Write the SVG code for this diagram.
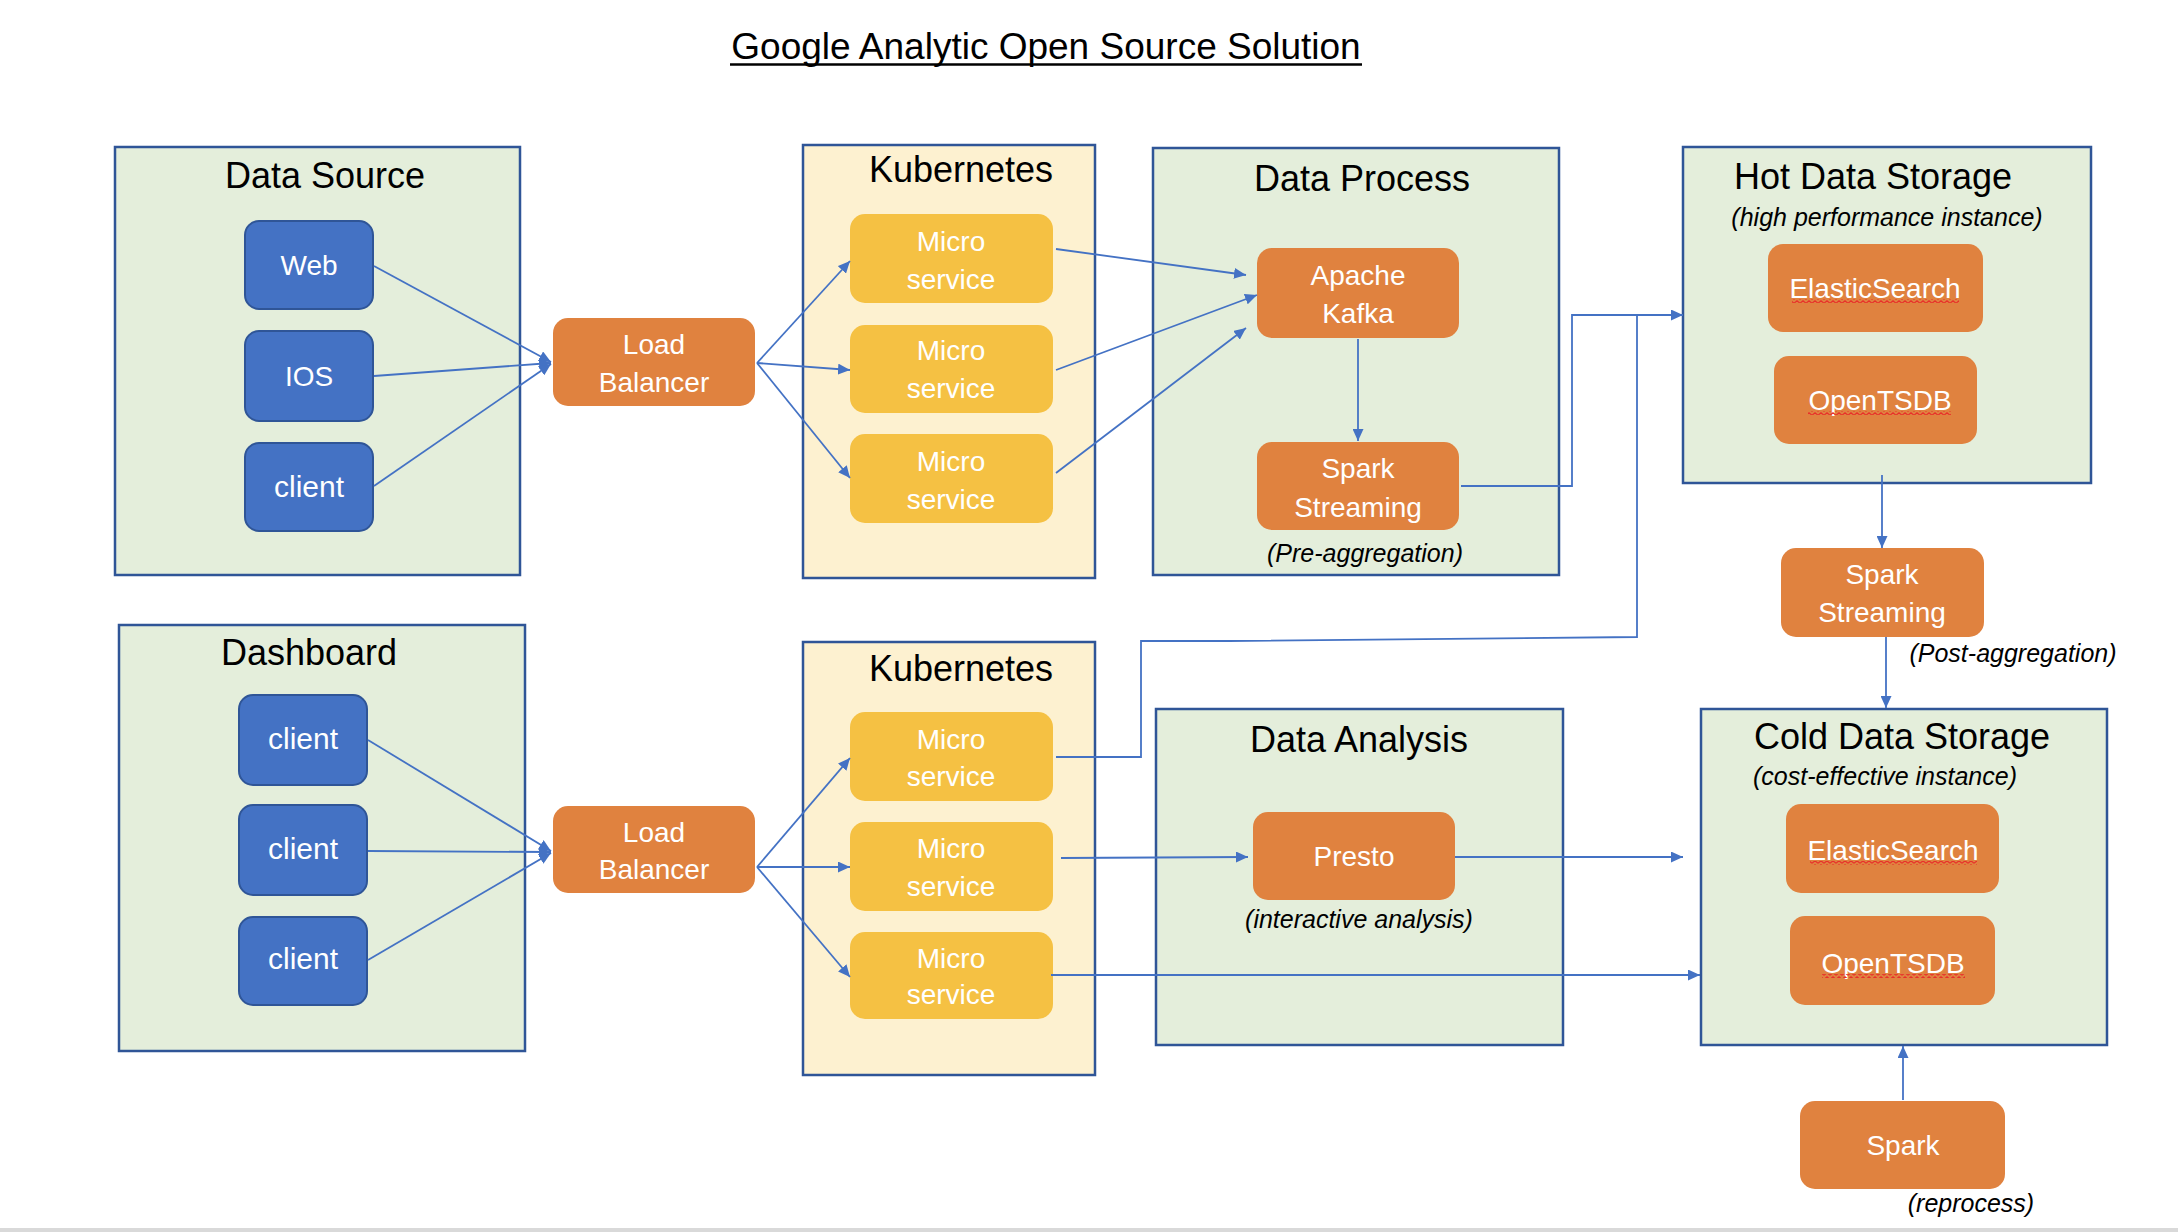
<svg xmlns="http://www.w3.org/2000/svg" width="2178" height="1232" viewBox="0 0 2178 1232">
<defs>
<style>
.grp{fill:#E4EEDB;stroke:#2F5597;stroke-width:2.5}
.k8s{fill:#FDF1D0;stroke:#2F5597;stroke-width:2.5}
.blue{fill:#4472C4;stroke:#2F5597;stroke-width:2}
.orange{fill:#E0823F}
.gold{fill:#F5C143}
.t{font-family:"Liberation Sans",Arial,sans-serif;text-anchor:middle}
.h{font-size:36px;fill:#000}
.w{font-size:28px;fill:#fff}
.cl{font-size:30px;fill:#fff}
.n{font-size:25px;font-style:italic;fill:#000}
.c{fill:none;stroke:#4472C4;stroke-width:1.8}
.a{marker-end:url(#arr)}
</style>
<marker id="arr" markerUnits="userSpaceOnUse" markerWidth="13" markerHeight="11" refX="12" refY="5.5" orient="auto">
<path d="M0,0 L12,5.5 L0,11 z" fill="#4472C4"/>
</marker>
<pattern id="wave" width="6" height="4" patternUnits="userSpaceOnUse">
<path d="M0,3.2 L3,0.8 L6,3.2" fill="none" stroke="#E8302A" stroke-width="1.1"/>
</pattern>
</defs>
<rect x="0" y="0" width="2178" height="1232" fill="#fff"/>
<rect x="0" y="1228" width="2178" height="4" fill="#D9D9D9"/>

<g id="title">
<text class="t" x="1046" y="59" font-size="37" fill="#000">Google Analytic Open Source Solution</text>
<line x1="730" y1="64.5" x2="1362" y2="64.5" stroke="#000" stroke-width="2.5"/>
</g>

<g id="data-source">
<rect class="grp" x="115" y="147" width="405" height="428"/>
<text class="t h" x="325" y="188">Data Source</text>
</g>
<g id="web"><rect class="blue" x="245" y="221" width="128" height="88" rx="14"/><text class="t w" x="309" y="275">Web</text></g>
<g id="ios"><rect class="blue" x="245" y="331" width="128" height="90" rx="14"/><text class="t w" x="309" y="386">IOS</text></g>
<g id="client-src"><rect class="blue" x="245" y="443" width="128" height="88" rx="14"/><text class="t cl" x="309" y="497">client</text></g>

<g id="lb-top"><rect class="orange" x="553" y="318" width="202" height="88" rx="15"/><text class="t w" x="654" y="354">Load</text><text class="t w" x="654" y="392">Balancer</text></g>

<g id="k8s-top">
<rect class="k8s" x="803" y="145" width="292" height="433"/>
<text class="t h" x="961" y="182">Kubernetes</text>
</g>
<g id="ms1"><rect class="gold" x="850" y="214" width="203" height="89" rx="15"/><text class="t w" x="951" y="251">Micro</text><text class="t w" x="951" y="289">service</text></g>
<g id="ms2"><rect class="gold" x="850" y="325" width="203" height="88" rx="15"/><text class="t w" x="951" y="360">Micro</text><text class="t w" x="951" y="398">service</text></g>
<g id="ms3"><rect class="gold" x="850" y="434" width="203" height="89" rx="15"/><text class="t w" x="951" y="471">Micro</text><text class="t w" x="951" y="509">service</text></g>

<g id="data-process">
<rect class="grp" x="1153" y="148" width="406" height="427"/>
<text class="t h" x="1362" y="191">Data Process</text>
<text class="t n" x="1365" y="562">(Pre-aggregation)</text>
</g>
<g id="kafka"><rect class="orange" x="1257" y="248" width="202" height="90" rx="15"/><text class="t w" x="1358" y="285">Apache</text><text class="t w" x="1358" y="323">Kafka</text></g>
<g id="spark-streaming-pre"><rect class="orange" x="1257" y="442" width="202" height="88" rx="15"/><text class="t w" x="1358" y="478">Spark</text><text class="t w" x="1358" y="517">Streaming</text></g>

<g id="hot-storage">
<rect class="grp" x="1683" y="147" width="408" height="336"/>
<text class="t h" x="1873" y="189">Hot Data Storage</text>
<text class="t n" x="1887" y="226">(high performance instance)</text>
</g>
<g id="es-hot"><rect class="orange" x="1768" y="244" width="215" height="88" rx="15"/><text class="t w" x="1875" y="298">ElasticSearch</text><rect x="1792" y="299" width="167" height="4" fill="url(#wave)"/></g>
<g id="tsdb-hot"><rect class="orange" x="1774" y="356" width="203" height="88" rx="15"/><text class="t w" x="1880" y="410">OpenTSDB</text><rect x="1808" y="411" width="143" height="4" fill="url(#wave)"/></g>

<g id="spark-streaming-post"><rect class="orange" x="1781" y="548" width="203" height="89" rx="15"/><text class="t w" x="1882" y="584">Spark</text><text class="t w" x="1882" y="622">Streaming</text><text class="t n" x="2013" y="662">(Post-aggregation)</text></g>

<g id="dashboard">
<rect class="grp" x="119" y="625" width="406" height="426"/>
<text class="t h" x="309" y="665">Dashboard</text>
</g>
<g id="client-d1"><rect class="blue" x="239" y="695" width="128" height="90" rx="14"/><text class="t cl" x="303" y="749">client</text></g>
<g id="client-d2"><rect class="blue" x="239" y="805" width="128" height="90" rx="14"/><text class="t cl" x="303" y="859">client</text></g>
<g id="client-d3"><rect class="blue" x="239" y="917" width="128" height="88" rx="14"/><text class="t cl" x="303" y="969">client</text></g>

<g id="lb-bottom"><rect class="orange" x="553" y="806" width="202" height="87" rx="15"/><text class="t w" x="654" y="842">Load</text><text class="t w" x="654" y="879">Balancer</text></g>

<g id="k8s-bottom">
<rect class="k8s" x="803" y="642" width="292" height="433"/>
<text class="t h" x="961" y="681">Kubernetes</text>
</g>
<g id="ms4"><rect class="gold" x="850" y="712" width="203" height="89" rx="15"/><text class="t w" x="951" y="749">Micro</text><text class="t w" x="951" y="786">service</text></g>
<g id="ms5"><rect class="gold" x="850" y="822" width="203" height="89" rx="15"/><text class="t w" x="951" y="858">Micro</text><text class="t w" x="951" y="896">service</text></g>
<g id="ms6"><rect class="gold" x="850" y="932" width="203" height="87" rx="15"/><text class="t w" x="951" y="968">Micro</text><text class="t w" x="951" y="1004">service</text></g>

<g id="data-analysis">
<rect class="grp" x="1156" y="709" width="407" height="336"/>
<text class="t h" x="1359" y="752">Data Analysis</text>
<text class="t n" x="1359" y="928">(interactive analysis)</text>
</g>
<g id="presto"><rect class="orange" x="1253" y="812" width="202" height="88" rx="15"/><text class="t w" x="1354" y="866">Presto</text></g>

<g id="cold-storage">
<rect class="grp" x="1701" y="709" width="406" height="336"/>
<text class="t h" x="1902" y="749">Cold Data Storage</text>
<text class="t n" x="1885" y="785">(cost-effective instance)</text>
</g>
<g id="es-cold"><rect class="orange" x="1786" y="804" width="213" height="89" rx="15"/><text class="t w" x="1893" y="860">ElasticSearch</text><rect x="1810" y="861" width="167" height="4" fill="url(#wave)"/></g>
<g id="tsdb-cold"><rect class="orange" x="1790" y="916" width="205" height="89" rx="15"/><text class="t w" x="1893" y="973">OpenTSDB</text><rect x="1822" y="974" width="143" height="4" fill="url(#wave)"/></g>

<g id="spark-reprocess"><rect class="orange" x="1800" y="1101" width="205" height="88" rx="15"/><text class="t w" x="1903" y="1155">Spark</text><text class="t n" x="1971" y="1212">(reprocess)</text></g>

<g id="connectors">
<path class="c a" d="M374,266 L551,362"/>
<path class="c a" d="M374,376 L551,363"/>
<path class="c a" d="M374,486 L551,364"/>
<path class="c a" d="M757,363 L850,261"/>
<path class="c a" d="M757,363 L850,370"/>
<path class="c a" d="M757,363 L850,478"/>
<path class="c a" d="M1056,249 L1246,275"/>
<path class="c a" d="M1056,370 L1257,295"/>
<path class="c a" d="M1056,473 L1246,328"/>
<path class="c a" d="M1358,339 L1358,441"/>
<path class="c a" d="M1461,486 L1572,486 L1572,315 L1683,315"/>
<path class="c a" d="M1882,475 L1882,548"/>
<path class="c a" d="M1886,637 L1886,708"/>
<path class="c a" d="M1903,1100 L1903,1046"/>
<path class="c a" d="M368,740 L551,851"/>
<path class="c a" d="M368,851 L551,852"/>
<path class="c a" d="M368,960 L551,853"/>
<path class="c a" d="M757,867 L850,758"/>
<path class="c a" d="M757,867 L850,867"/>
<path class="c a" d="M757,867 L850,977"/>
<path class="c" d="M1056,757 L1141,757 L1141,641 L1229,641 L1637,637 L1637,315"/>
<path class="c a" d="M1061,858 L1248,857"/>
<path class="c a" d="M1455,857 L1683,857"/>
<path class="c a" d="M1051,975 L1700,975"/>
</g>
</svg>
